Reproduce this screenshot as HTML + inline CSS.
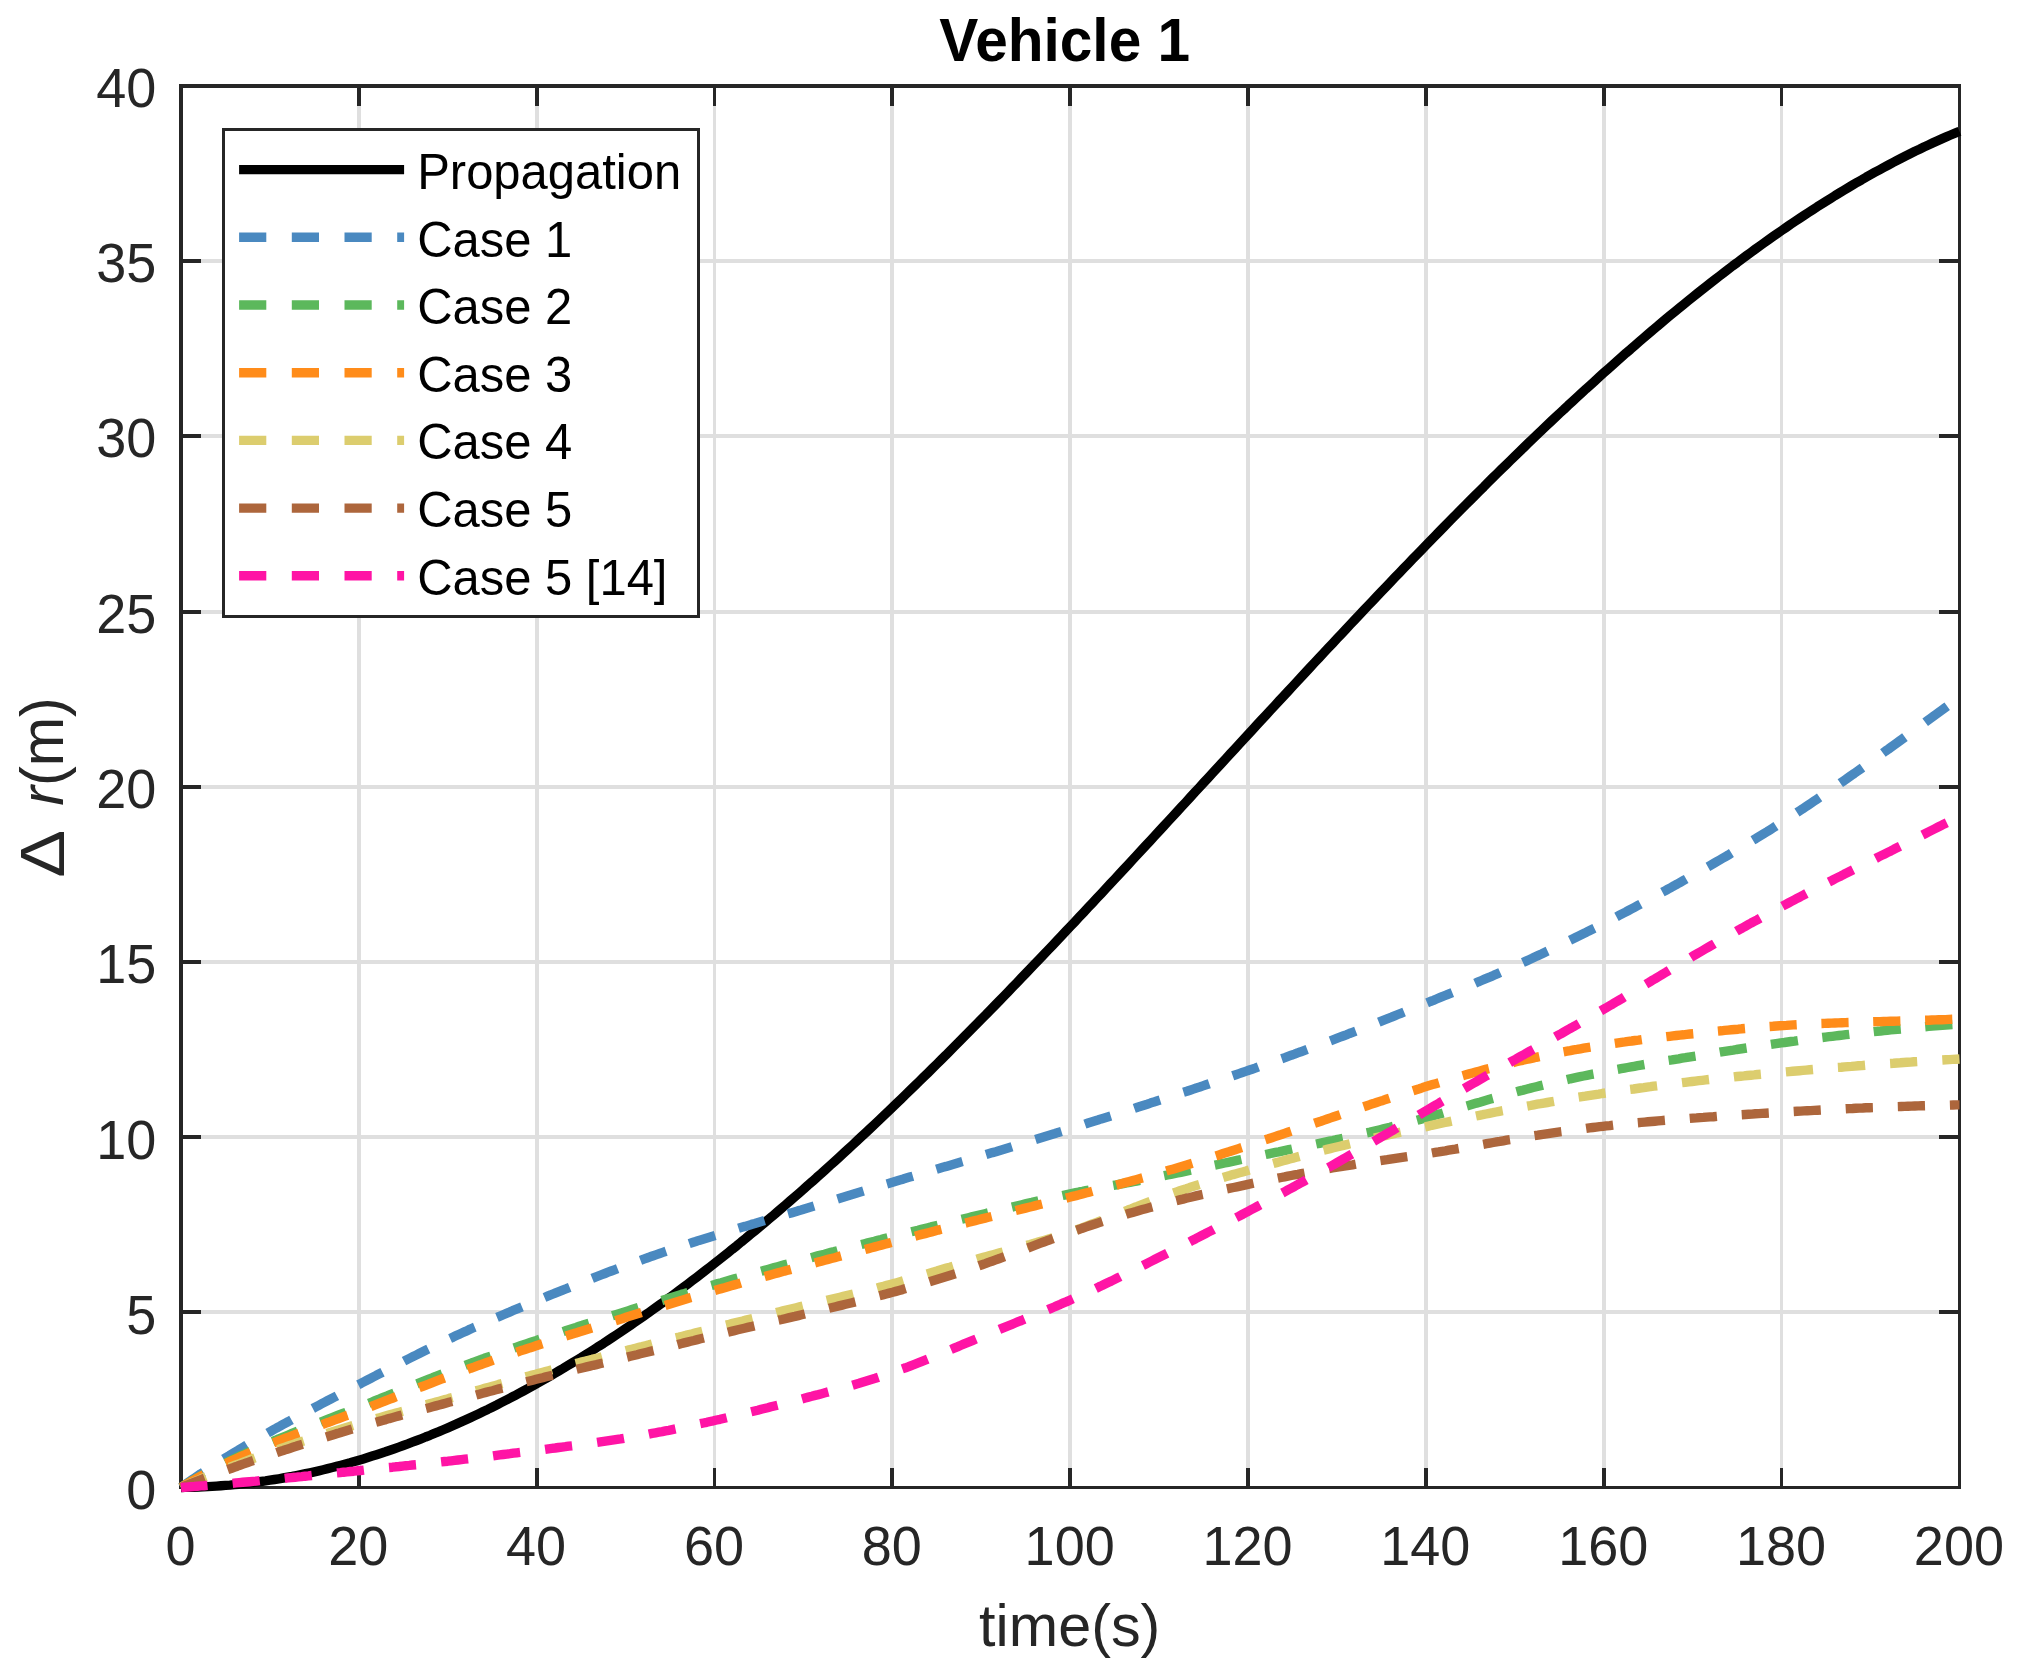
<!DOCTYPE html>
<html><head><meta charset="utf-8"><title>Vehicle 1</title>
<style>html,body{margin:0;padding:0;background:#fff}svg{display:block}text{font-family:"Liberation Sans",sans-serif}</style></head><body>
<svg width="2030" height="1673" viewBox="0 0 2030 1673">
<rect width="2030" height="1673" fill="#fff"/>
<path d="M357,88H361V1486H357ZM535,88H539V1486H535ZM713,88H716V1486H713ZM890,88H894V1486H890ZM1068,88H1072V1486H1068ZM1246,88H1250V1486H1246ZM1424,88H1428V1486H1424ZM1602,88H1606V1486H1602ZM1780,88H1783V1486H1780ZM183,1310H1958V1314H183ZM183,1135H1958V1139H183ZM183,960H1958V964H183ZM183,785H1958V789H183ZM183,610H1958V614H183ZM183,434H1958V438H183ZM183,259H1958V263H183Z" fill="#dfdfdf" shape-rendering="crispEdges"/>
<path d="M357,88H361V106H357Z M357,1468H361V1486H357ZM535,88H539V106H535Z M535,1468H539V1486H535ZM713,88H716V106H713Z M713,1468H716V1486H713ZM890,88H894V106H890Z M890,1468H894V1486H890ZM1068,88H1072V106H1068Z M1068,1468H1072V1486H1068ZM1246,88H1250V106H1246Z M1246,1468H1250V1486H1246ZM1424,88H1428V106H1424Z M1424,1468H1428V1486H1424ZM1602,88H1606V106H1602Z M1602,1468H1606V1486H1602ZM1780,88H1783V106H1780Z M1780,1468H1783V1486H1780ZM183,1310H201V1314H183Z M1939,1310H1958V1314H1939ZM183,1135H201V1139H183Z M1939,1135H1958V1139H1939ZM183,960H201V964H183Z M1939,960H1958V964H1939ZM183,785H201V789H183Z M1939,785H1958V789H1939ZM183,610H201V614H183Z M1939,610H1958V614H1939ZM183,434H201V438H183Z M1939,434H1958V438H1939ZM183,259H201V263H183Z M1939,259H1958V263H1939Z" fill="#262626" shape-rendering="crispEdges"/>
<path d="M179,84H1961V1489H179Z M183,88V1486H1958V88Z" fill="#262626" fill-rule="evenodd" shape-rendering="crispEdges"/>
<path d="M181.0,1487.5 L185.4,1487.4 L189.9,1487.3 L194.3,1487.2 L198.8,1487.0 L203.2,1486.9 L207.7,1486.6 L212.1,1486.4 L216.6,1486.1 L221.0,1485.8 L225.5,1485.4 L229.9,1485.1 L234.4,1484.6 L238.8,1484.2 L243.2,1483.7 L247.7,1483.2 L252.1,1482.7 L256.6,1482.1 L261.0,1481.5 L265.5,1480.9 L269.9,1480.2 L274.4,1479.5 L278.8,1478.8 L283.3,1478.0 L287.7,1477.2 L292.2,1476.4 L296.6,1475.5 L301.0,1474.6 L305.5,1473.7 L309.9,1472.8 L314.4,1471.8 L318.8,1470.8 L323.3,1469.7 L327.7,1468.6 L332.2,1467.5 L336.6,1466.4 L341.1,1465.2 L345.5,1464.0 L350.0,1462.8 L354.4,1461.5 L358.9,1460.2 L363.3,1458.9 L367.7,1457.5 L372.2,1456.1 L376.6,1454.7 L381.1,1453.2 L385.5,1451.8 L390.0,1450.2 L394.4,1448.7 L398.9,1447.1 L403.3,1445.5 L407.8,1443.9 L412.2,1442.2 L416.7,1440.5 L421.1,1438.8 L425.5,1437.0 L430.0,1435.3 L434.4,1433.4 L438.9,1431.6 L443.3,1429.7 L447.8,1427.8 L452.2,1425.9 L456.7,1423.9 L461.1,1421.9 L465.6,1419.9 L470.0,1417.9 L474.5,1415.8 L478.9,1413.7 L483.3,1411.5 L487.8,1409.4 L492.2,1407.2 L496.7,1405.0 L501.1,1402.7 L505.6,1400.4 L510.0,1398.1 L514.5,1395.8 L518.9,1393.4 L523.4,1391.0 L527.8,1388.6 L532.3,1386.2 L536.7,1383.7 L541.1,1381.2 L545.6,1378.7 L550.0,1376.1 L554.5,1373.5 L558.9,1370.9 L563.4,1368.3 L567.8,1365.6 L572.3,1362.9 L576.7,1360.2 L581.2,1357.5 L585.6,1354.7 L590.1,1351.9 L594.5,1349.1 L598.9,1346.2 L603.4,1343.4 L607.8,1340.5 L612.3,1337.5 L616.7,1334.6 L621.2,1331.6 L625.6,1328.6 L630.1,1325.6 L634.5,1322.5 L639.0,1319.4 L643.4,1316.3 L647.9,1313.2 L652.3,1310.0 L656.7,1306.9 L661.2,1303.7 L665.6,1300.4 L670.1,1297.2 L674.5,1293.9 L679.0,1290.6 L683.4,1287.3 L687.9,1283.9 L692.3,1280.6 L696.8,1277.2 L701.2,1273.8 L705.7,1270.3 L710.1,1266.9 L714.5,1263.4 L719.0,1259.9 L723.4,1256.4 L727.9,1252.8 L732.3,1249.2 L736.8,1245.7 L741.2,1242.0 L745.7,1238.4 L750.1,1234.7 L754.6,1231.1 L759.0,1227.4 L763.5,1223.7 L767.9,1219.9 L772.4,1216.2 L776.8,1212.4 L781.2,1208.6 L785.7,1204.7 L790.1,1200.9 L794.6,1197.0 L799.0,1193.2 L803.5,1189.3 L807.9,1185.3 L812.4,1181.4 L816.8,1177.4 L821.3,1173.5 L825.7,1169.5 L830.2,1165.4 L834.6,1161.4 L839.0,1157.4 L843.5,1153.3 L847.9,1149.2 L852.4,1145.1 L856.8,1141.0 L861.3,1136.8 L865.7,1132.7 L870.2,1128.5 L874.6,1124.3 L879.1,1120.1 L883.5,1115.9 L888.0,1111.6 L892.4,1107.4 L896.8,1103.1 L901.3,1098.8 L905.7,1094.5 L910.2,1090.2 L914.6,1085.9 L919.1,1081.5 L923.5,1077.2 L928.0,1072.8 L932.4,1068.4 L936.9,1064.0 L941.3,1059.6 L945.8,1055.2 L950.2,1050.7 L954.6,1046.3 L959.1,1041.8 L963.5,1037.3 L968.0,1032.8 L972.4,1028.3 L976.9,1023.8 L981.3,1019.3 L985.8,1014.8 L990.2,1010.2 L994.7,1005.6 L999.1,1001.1 L1003.6,996.5 L1008.0,991.9 L1012.4,987.3 L1016.9,982.7 L1021.3,978.0 L1025.8,973.4 L1030.2,968.8 L1034.7,964.1 L1039.1,959.5 L1043.6,954.8 L1048.0,950.1 L1052.5,945.4 L1056.9,940.7 L1061.4,936.0 L1065.8,931.3 L1070.2,926.6 L1074.7,921.9 L1079.1,917.1 L1083.6,912.4 L1088.0,907.6 L1092.5,902.9 L1096.9,898.1 L1101.4,893.4 L1105.8,888.6 L1110.3,883.8 L1114.7,879.1 L1119.2,874.3 L1123.6,869.5 L1128.1,864.7 L1132.5,859.9 L1136.9,855.1 L1141.4,850.3 L1145.8,845.5 L1150.3,840.7 L1154.7,835.9 L1159.2,831.0 L1163.6,826.2 L1168.1,821.4 L1172.5,816.6 L1177.0,811.8 L1181.4,806.9 L1185.9,802.1 L1190.3,797.3 L1194.7,792.4 L1199.2,787.6 L1203.6,782.8 L1208.1,778.0 L1212.5,773.1 L1217.0,768.3 L1221.4,763.5 L1225.9,758.6 L1230.3,753.8 L1234.8,749.0 L1239.2,744.1 L1243.7,739.3 L1248.1,734.5 L1252.5,729.7 L1257.0,724.8 L1261.4,720.0 L1265.9,715.2 L1270.3,710.4 L1274.8,705.6 L1279.2,700.8 L1283.7,696.0 L1288.1,691.2 L1292.6,686.4 L1297.0,681.6 L1301.5,676.8 L1305.9,672.0 L1310.3,667.2 L1314.8,662.4 L1319.2,657.7 L1323.7,652.9 L1328.1,648.1 L1332.6,643.4 L1337.0,638.6 L1341.5,633.9 L1345.9,629.2 L1350.4,624.4 L1354.8,619.7 L1359.3,615.0 L1363.7,610.3 L1368.1,605.6 L1372.6,600.9 L1377.0,596.2 L1381.5,591.5 L1385.9,586.9 L1390.4,582.2 L1394.8,577.6 L1399.3,572.9 L1403.7,568.3 L1408.2,563.7 L1412.6,559.1 L1417.1,554.5 L1421.5,549.9 L1426.0,545.3 L1430.4,540.7 L1434.8,536.2 L1439.3,531.6 L1443.7,527.1 L1448.2,522.5 L1452.6,518.0 L1457.1,513.5 L1461.5,509.0 L1466.0,504.5 L1470.4,500.1 L1474.9,495.6 L1479.3,491.2 L1483.8,486.8 L1488.2,482.3 L1492.6,477.9 L1497.1,473.5 L1501.5,469.2 L1506.0,464.8 L1510.4,460.5 L1514.9,456.1 L1519.3,451.8 L1523.8,447.5 L1528.2,443.2 L1532.7,438.9 L1537.1,434.7 L1541.6,430.4 L1546.0,426.2 L1550.4,422.0 L1554.9,417.8 L1559.3,413.6 L1563.8,409.5 L1568.2,405.3 L1572.7,401.2 L1577.1,397.1 L1581.6,393.0 L1586.0,388.9 L1590.5,384.9 L1594.9,380.9 L1599.4,376.8 L1603.8,372.8 L1608.2,368.9 L1612.7,364.9 L1617.1,361.0 L1621.6,357.0 L1626.0,353.1 L1630.5,349.3 L1634.9,345.4 L1639.4,341.5 L1643.8,337.7 L1648.3,333.9 L1652.7,330.1 L1657.2,326.4 L1661.6,322.6 L1666.0,318.9 L1670.5,315.2 L1674.9,311.6 L1679.4,307.9 L1683.8,304.3 L1688.3,300.7 L1692.7,297.1 L1697.2,293.5 L1701.6,290.0 L1706.1,286.5 L1710.5,283.0 L1715.0,279.5 L1719.4,276.1 L1723.8,272.7 L1728.3,269.3 L1732.7,265.9 L1737.2,262.6 L1741.6,259.2 L1746.1,255.9 L1750.5,252.7 L1755.0,249.4 L1759.4,246.2 L1763.9,243.0 L1768.3,239.9 L1772.8,236.7 L1777.2,233.6 L1781.7,230.5 L1786.1,227.5 L1790.5,224.4 L1795.0,221.4 L1799.4,218.5 L1803.9,215.5 L1808.3,212.6 L1812.8,209.7 L1817.2,206.8 L1821.7,204.0 L1826.1,201.2 L1830.6,198.4 L1835.0,195.6 L1839.5,192.9 L1843.9,190.2 L1848.3,187.6 L1852.8,184.9 L1857.2,182.3 L1861.7,179.8 L1866.1,177.2 L1870.6,174.7 L1875.0,172.2 L1879.5,169.8 L1883.9,167.4 L1888.4,165.0 L1892.8,162.6 L1897.3,160.3 L1901.7,158.0 L1906.1,155.8 L1910.6,153.5 L1915.0,151.3 L1919.5,149.2 L1923.9,147.0 L1928.4,144.9 L1932.8,142.9 L1937.3,140.9 L1941.7,138.9 L1946.2,136.9 L1950.6,135.0 L1955.1,133.1 L1959.5,131.2" fill="none" stroke="#000000" stroke-width="9.4" stroke-linejoin="round"/>
<path d="M181.0,1487.5 L183.8,1485.5 L186.5,1483.6 L189.3,1481.6 L192.1,1479.7 L194.9,1477.8 L197.7,1475.9 L200.5,1474.0 L203.4,1472.2 M223.6,1459.1 L226.5,1457.3 L229.4,1455.6 L232.3,1453.8 L235.2,1452.0 L238.1,1450.3 L241.0,1448.5 L243.9,1446.8 L246.8,1445.0 M267.7,1433.0 L270.7,1431.3 L273.6,1429.7 L276.6,1428.0 L279.6,1426.4 L282.6,1424.7 L285.5,1423.1 L288.5,1421.5 L291.5,1419.8 M312.8,1408.5 L315.8,1406.9 L318.8,1405.3 L321.8,1403.7 L324.8,1402.1 L327.8,1400.5 L330.8,1399.0 L333.9,1397.4 L336.9,1395.8 M358.3,1384.7 L361.3,1383.2 L364.3,1381.6 L367.4,1380.0 L370.4,1378.5 L373.4,1376.9 L376.4,1375.3 L379.4,1373.8 L382.5,1372.2 M404.0,1361.2 L407.0,1359.6 L410.0,1358.1 L413.1,1356.6 L416.1,1355.1 L419.2,1353.5 L422.2,1352.0 L425.2,1350.5 L428.3,1349.0 M450.1,1338.5 L453.2,1337.1 L456.3,1335.6 L459.3,1334.2 L462.4,1332.8 L465.5,1331.4 L468.6,1329.9 L471.7,1328.5 L474.8,1327.2 M497.0,1317.4 L500.1,1316.1 L503.3,1314.7 L506.4,1313.4 L509.5,1312.1 L512.6,1310.7 L515.8,1309.4 L518.9,1308.1 L522.0,1306.8 M544.5,1297.5 L547.6,1296.2 L550.7,1294.9 L553.9,1293.7 L557.0,1292.4 L560.2,1291.1 L563.3,1289.8 L566.5,1288.6 L569.7,1287.3 M592.2,1278.4 L595.4,1277.1 L598.6,1275.9 L601.8,1274.7 L604.9,1273.5 L608.1,1272.2 L611.3,1271.0 L614.5,1269.8 L617.6,1268.6 M640.5,1260.3 L643.7,1259.1 L646.9,1258.0 L650.1,1256.8 L653.3,1255.7 L656.5,1254.6 L659.7,1253.5 L662.9,1252.4 L666.1,1251.3 M689.2,1243.6 L692.5,1242.5 L695.7,1241.5 L698.9,1240.4 L702.2,1239.4 L705.4,1238.4 L708.7,1237.4 L711.9,1236.4 L715.2,1235.4 M738.5,1228.3 L741.7,1227.3 L745.0,1226.4 L748.3,1225.4 L751.5,1224.4 L754.8,1223.5 L758.1,1222.5 L761.3,1221.6 L764.6,1220.6 M788.0,1213.8 L791.3,1212.9 L794.5,1211.9 L797.8,1210.9 L801.1,1210.0 L804.3,1209.0 L807.6,1208.0 L810.8,1207.1 L814.1,1206.1 M837.5,1199.0 L840.7,1198.0 L844.0,1197.0 L847.2,1196.0 L850.5,1195.0 L853.7,1194.0 L857.0,1193.0 L860.2,1192.1 L863.5,1191.1 M886.9,1183.9 L890.1,1183.0 L893.4,1182.0 L896.6,1181.0 L899.9,1180.0 L903.2,1179.1 L906.4,1178.1 L909.7,1177.1 L912.9,1176.2 M936.4,1169.3 L939.7,1168.3 L942.9,1167.3 L946.2,1166.4 L949.5,1165.4 L952.7,1164.5 L956.0,1163.5 L959.3,1162.5 L962.5,1161.6 M986.0,1154.6 L989.3,1153.6 L992.5,1152.6 L995.8,1151.7 L999.0,1150.7 L1002.3,1149.7 L1005.5,1148.7 L1008.8,1147.7 L1012.0,1146.7 M1035.5,1139.5 L1038.7,1138.5 L1042.0,1137.5 L1045.2,1136.5 L1048.5,1135.5 L1051.7,1134.5 L1055.0,1133.5 L1058.2,1132.4 L1061.5,1131.4 M1084.9,1124.1 L1088.1,1123.0 L1091.4,1122.0 L1094.6,1121.0 L1097.9,1120.0 L1101.1,1118.9 L1104.4,1117.9 L1107.6,1116.9 L1110.8,1115.9 M1134.3,1108.4 L1137.5,1107.3 L1140.7,1106.3 L1144.0,1105.2 L1147.2,1104.2 L1150.4,1103.1 L1153.7,1102.1 L1156.9,1101.0 L1160.1,1100.0 M1183.5,1092.3 L1186.8,1091.3 L1190.0,1090.2 L1193.2,1089.1 L1196.4,1088.0 L1199.7,1087.0 L1202.9,1085.9 L1206.1,1084.8 L1209.3,1083.7 M1232.7,1075.8 L1235.9,1074.7 L1239.1,1073.6 L1242.3,1072.5 L1245.6,1071.4 L1248.8,1070.3 L1252.0,1069.2 L1255.2,1068.1 L1258.4,1066.9 M1281.7,1058.7 L1284.9,1057.6 L1288.1,1056.4 L1291.3,1055.2 L1294.5,1054.1 L1297.6,1052.9 L1300.8,1051.8 L1304.0,1050.6 L1307.2,1049.4 M1330.4,1040.8 L1333.6,1039.6 L1336.7,1038.4 L1339.9,1037.2 L1343.1,1036.0 L1346.3,1034.8 L1349.4,1033.5 L1352.6,1032.3 L1355.8,1031.1 M1378.8,1022.1 L1382.0,1020.8 L1385.1,1019.6 L1388.3,1018.3 L1391.5,1017.1 L1394.6,1015.8 L1397.8,1014.5 L1400.9,1013.3 L1404.1,1012.0 M1427.1,1002.8 L1430.2,1001.5 L1433.4,1000.3 L1436.5,999.0 L1439.7,997.7 L1442.8,996.4 L1446.0,995.2 L1449.1,993.9 L1452.3,992.6 M1475.2,983.2 L1478.3,981.8 L1481.5,980.5 L1484.6,979.2 L1487.7,977.9 L1490.9,976.6 L1494.0,975.2 L1497.1,973.9 L1500.2,972.5 M1522.9,962.5 L1526.0,961.1 L1529.1,959.7 L1532.2,958.3 L1535.3,956.8 L1538.4,955.4 L1541.5,954.0 L1544.6,952.5 L1547.6,951.1 M1570.0,940.3 L1573.1,938.8 L1576.1,937.3 L1579.2,935.8 L1582.2,934.3 L1585.3,932.8 L1588.3,931.2 L1591.3,929.7 L1594.4,928.2 M1616.5,916.8 L1619.5,915.2 L1622.5,913.6 L1625.5,912.1 L1628.5,910.5 L1631.5,908.9 L1634.5,907.3 L1637.5,905.7 L1640.5,904.1 M1662.4,892.2 L1665.4,890.6 L1668.4,888.9 L1671.4,887.3 L1674.3,885.6 L1677.3,884.0 L1680.3,882.3 L1683.2,880.7 L1686.2,879.0 M1707.9,866.8 L1710.9,865.1 L1713.8,863.4 L1716.8,861.7 L1719.7,860.0 L1722.6,858.3 L1725.6,856.6 L1728.5,854.9 L1731.4,853.1 M1752.9,840.3 L1755.8,838.6 L1758.7,836.8 L1761.6,835.0 L1764.5,833.2 L1767.4,831.5 L1770.3,829.7 L1773.1,827.9 L1776.0,826.0 M1797.0,812.5 L1799.9,810.6 L1802.7,808.8 L1805.5,806.9 L1808.4,805.0 L1811.2,803.1 L1814.0,801.2 L1816.8,799.3 L1819.6,797.4 M1840.3,783.2 L1843.0,781.3 L1845.8,779.4 L1848.6,777.4 L1851.4,775.4 L1854.2,773.5 L1857.0,771.5 L1859.7,769.6 L1862.5,767.6 M1882.9,753.0 L1885.6,751.0 L1888.4,749.1 L1891.1,747.1 L1893.9,745.1 L1896.7,743.1 L1899.4,741.1 L1902.2,739.1 L1904.9,737.1 M1925.2,722.3 L1927.9,720.3 L1930.7,718.3 L1933.4,716.3 L1936.2,714.3 L1938.9,712.3 L1941.7,710.3 L1944.4,708.3 L1947.2,706.3" fill="none" stroke="#4a89c0" stroke-width="9.4" stroke-linejoin="round"/>
<path d="M181.0,1487.5 L183.8,1485.8 L186.6,1484.1 L189.4,1482.4 L192.3,1480.8 L195.1,1479.2 L198.0,1477.5 L200.8,1475.9 L203.7,1474.4 M225.5,1463.0 L228.5,1461.5 L231.6,1460.0 L234.7,1458.5 L237.7,1457.1 L240.8,1455.6 L243.9,1454.2 L247.0,1452.7 L250.1,1451.3 M272.6,1441.5 L275.7,1440.2 L278.8,1438.8 L282.0,1437.5 L285.1,1436.3 L288.3,1435.0 L291.4,1433.7 L294.6,1432.4 L297.7,1431.1 M320.6,1422.1 L323.8,1420.9 L326.9,1419.7 L330.1,1418.4 L333.3,1417.2 L336.4,1416.0 L339.6,1414.7 L342.8,1413.5 L346.0,1412.3 M368.8,1403.3 L372.0,1402.0 L375.1,1400.7 L378.3,1399.5 L381.4,1398.2 L384.6,1396.9 L387.8,1395.7 L390.9,1394.4 L394.1,1393.1 M416.9,1383.9 L420.0,1382.7 L423.2,1381.4 L426.3,1380.2 L429.5,1378.9 L432.7,1377.7 L435.8,1376.4 L439.0,1375.2 L442.2,1374.0 M465.2,1365.3 L468.4,1364.1 L471.6,1363.0 L474.7,1361.8 L477.9,1360.6 L481.1,1359.5 L484.3,1358.3 L487.5,1357.2 L490.8,1356.1 M514.0,1348.0 L517.2,1346.9 L520.4,1345.8 L523.6,1344.7 L526.8,1343.6 L530.1,1342.5 L533.3,1341.4 L536.5,1340.4 L539.7,1339.3 M563.1,1331.6 L566.3,1330.5 L569.5,1329.5 L572.8,1328.4 L576.0,1327.4 L579.2,1326.3 L582.5,1325.3 L585.7,1324.2 L589.0,1323.2 M612.4,1315.7 L615.6,1314.7 L618.9,1313.7 L622.1,1312.7 L625.3,1311.7 L628.6,1310.6 L631.8,1309.6 L635.1,1308.6 L638.3,1307.6 M661.8,1300.4 L665.1,1299.4 L668.3,1298.4 L671.6,1297.4 L674.8,1296.4 L678.1,1295.4 L681.3,1294.4 L684.6,1293.5 L687.9,1292.5 M711.4,1285.5 L714.7,1284.6 L717.9,1283.6 L721.2,1282.7 L724.5,1281.7 L727.7,1280.8 L731.0,1279.8 L734.3,1278.9 L737.6,1278.0 M761.2,1271.3 L764.5,1270.4 L767.8,1269.5 L771.0,1268.6 L774.3,1267.6 L777.6,1266.7 L780.9,1265.8 L784.2,1264.9 L787.4,1264.1 M811.2,1257.7 L814.4,1256.8 L817.7,1255.9 L821.0,1255.0 L824.3,1254.2 L827.6,1253.3 L830.9,1252.4 L834.2,1251.6 L837.5,1250.7 M861.3,1244.5 L864.5,1243.7 L867.8,1242.8 L871.1,1242.0 L874.4,1241.2 L877.7,1240.3 L881.0,1239.5 L884.3,1238.6 L887.6,1237.8 M911.4,1231.8 L914.7,1231.0 L918.0,1230.2 L921.3,1229.3 L924.6,1228.5 L927.9,1227.7 L931.2,1226.9 L934.5,1226.0 L937.8,1225.2 M961.7,1219.3 L965.0,1218.5 L968.3,1217.7 L971.6,1216.9 L974.9,1216.1 L978.2,1215.3 L981.5,1214.5 L984.8,1213.7 L988.1,1212.9 M1012.0,1207.1 L1015.3,1206.3 L1018.6,1205.5 L1021.9,1204.7 L1025.2,1203.9 L1028.5,1203.1 L1031.9,1202.4 L1035.2,1201.6 L1038.5,1200.8 M1062.5,1195.5 L1065.8,1194.8 L1069.1,1194.1 L1072.5,1193.4 L1075.8,1192.7 L1079.1,1192.0 L1082.5,1191.4 L1085.8,1190.7 L1089.1,1190.0 M1113.3,1185.4 L1116.6,1184.8 L1119.9,1184.1 L1123.3,1183.5 L1126.6,1182.9 L1130.0,1182.3 L1133.3,1181.6 L1136.7,1181.0 L1140.0,1180.4 M1164.1,1175.7 L1167.5,1175.0 L1170.8,1174.4 L1174.1,1173.7 L1177.5,1173.0 L1180.8,1172.3 L1184.1,1171.6 L1187.4,1170.9 L1190.8,1170.2 M1214.8,1165.2 L1218.1,1164.5 L1221.5,1163.7 L1224.8,1163.0 L1228.1,1162.3 L1231.4,1161.6 L1234.8,1160.9 L1238.1,1160.2 L1241.4,1159.5 M1265.5,1154.5 L1268.8,1153.8 L1272.1,1153.1 L1275.5,1152.4 L1278.8,1151.8 L1282.1,1151.1 L1285.5,1150.4 L1288.8,1149.7 L1292.1,1149.0 M1316.2,1144.0 L1319.5,1143.3 L1322.8,1142.6 L1326.2,1141.9 L1329.5,1141.2 L1332.8,1140.5 L1336.1,1139.7 L1339.5,1139.0 L1342.8,1138.3 M1366.8,1132.8 L1370.1,1132.1 L1373.4,1131.3 L1376.7,1130.5 L1380.0,1129.7 L1383.3,1128.9 L1386.6,1128.1 L1389.9,1127.3 L1393.2,1126.4 M1417.0,1120.3 L1420.3,1119.4 L1423.5,1118.5 L1426.8,1117.6 L1430.1,1116.7 L1433.4,1115.7 L1436.6,1114.8 L1439.9,1113.9 L1443.2,1112.9 M1466.8,1106.0 L1470.0,1105.1 L1473.3,1104.1 L1476.5,1103.1 L1479.8,1102.2 L1483.1,1101.2 L1486.3,1100.3 L1489.6,1099.3 L1492.9,1098.4 M1516.5,1091.8 L1519.8,1090.9 L1523.1,1090.1 L1526.4,1089.2 L1529.7,1088.4 L1533.0,1087.5 L1536.3,1086.7 L1539.6,1085.9 L1542.9,1085.1 M1566.9,1079.6 L1570.2,1078.8 L1573.5,1078.1 L1576.8,1077.4 L1580.2,1076.7 L1583.5,1076.0 L1586.8,1075.3 L1590.1,1074.6 L1593.5,1074.0 M1617.6,1069.3 L1621.0,1068.7 L1624.3,1068.1 L1627.6,1067.5 L1631.0,1066.9 L1634.3,1066.3 L1637.7,1065.7 L1641.0,1065.1 L1644.4,1064.5 M1668.6,1060.4 L1672.0,1059.9 L1675.3,1059.3 L1678.7,1058.8 L1682.0,1058.2 L1685.4,1057.7 L1688.8,1057.1 L1692.1,1056.6 L1695.5,1056.1 M1719.7,1052.2 L1723.1,1051.6 L1726.5,1051.1 L1729.8,1050.6 L1733.2,1050.1 L1736.5,1049.5 L1739.9,1049.0 L1743.3,1048.5 L1746.6,1048.0 M1770.9,1044.4 L1774.3,1043.9 L1777.7,1043.4 L1781.0,1042.9 L1784.4,1042.5 L1787.8,1042.0 L1791.1,1041.5 L1794.5,1041.1 L1797.9,1040.6 M1822.3,1037.5 L1825.6,1037.1 L1829.0,1036.7 L1832.4,1036.3 L1835.8,1035.9 L1839.1,1035.5 L1842.5,1035.1 L1845.9,1034.7 L1849.3,1034.3 M1873.7,1031.7 L1877.1,1031.3 L1880.5,1031.0 L1883.8,1030.6 L1887.2,1030.3 L1890.6,1029.9 L1894.0,1029.6 L1897.4,1029.3 L1900.8,1029.0 M1925.2,1026.7 L1928.6,1026.4 L1932.0,1026.1 L1935.4,1025.9 L1938.8,1025.6 L1942.2,1025.3 L1945.6,1025.0 L1949.0,1024.7 L1952.4,1024.5" fill="none" stroke="#5cb85c" stroke-width="9.4" stroke-linejoin="round"/>
<path d="M181.0,1487.5 L183.8,1485.8 L186.6,1484.1 L189.5,1482.5 L192.3,1480.9 L195.2,1479.3 L198.1,1477.7 L200.9,1476.2 L203.8,1474.6 M225.9,1463.5 L229.0,1462.1 L232.1,1460.6 L235.1,1459.2 L238.2,1457.8 L241.3,1456.4 L244.4,1455.0 L247.6,1453.7 L250.7,1452.3 M273.5,1442.9 L276.7,1441.7 L279.8,1440.4 L283.0,1439.2 L286.2,1438.0 L289.4,1436.8 L292.5,1435.6 L295.7,1434.4 L298.9,1433.2 M322.1,1424.6 L325.3,1423.4 L328.5,1422.3 L331.7,1421.1 L334.8,1419.9 L338.0,1418.8 L341.2,1417.6 L344.4,1416.4 L347.6,1415.3 M370.7,1406.6 L373.9,1405.3 L377.1,1404.1 L380.2,1402.9 L383.4,1401.7 L386.6,1400.4 L389.8,1399.2 L392.9,1398.0 L396.1,1396.7 M419.1,1387.7 L422.3,1386.5 L425.4,1385.3 L428.6,1384.1 L431.8,1382.8 L434.9,1381.6 L438.1,1380.4 L441.3,1379.2 L444.5,1378.0 M467.6,1369.4 L470.8,1368.2 L474.0,1367.1 L477.2,1365.9 L480.4,1364.8 L483.6,1363.6 L486.8,1362.5 L490.0,1361.4 L493.2,1360.2 M516.6,1352.2 L519.8,1351.1 L523.1,1350.1 L526.3,1349.0 L529.5,1347.9 L532.7,1346.9 L536.0,1345.8 L539.2,1344.7 L542.4,1343.7 M565.9,1336.1 L569.2,1335.1 L572.4,1334.1 L575.7,1333.1 L578.9,1332.0 L582.2,1331.0 L585.4,1330.0 L588.6,1329.0 L591.9,1328.0 M615.5,1320.7 L618.7,1319.7 L622.0,1318.7 L625.2,1317.6 L628.5,1316.6 L631.7,1315.6 L635.0,1314.6 L638.2,1313.6 L641.5,1312.6 M665.1,1305.4 L668.3,1304.4 L671.6,1303.4 L674.8,1302.4 L678.1,1301.4 L681.3,1300.4 L684.6,1299.4 L687.8,1298.4 L691.1,1297.5 M714.8,1290.5 L718.0,1289.5 L721.3,1288.6 L724.6,1287.7 L727.9,1286.7 L731.1,1285.8 L734.4,1284.9 L737.7,1284.0 L740.9,1283.0 M764.7,1276.5 L768.0,1275.6 L771.3,1274.7 L774.6,1273.8 L777.9,1272.9 L781.2,1272.0 L784.4,1271.1 L787.7,1270.3 L791.0,1269.4 M814.9,1263.0 L818.1,1262.1 L821.4,1261.2 L824.7,1260.3 L828.0,1259.4 L831.3,1258.5 L834.6,1257.7 L837.8,1256.8 L841.1,1255.9 M865.0,1249.5 L868.3,1248.6 L871.5,1247.8 L874.8,1246.9 L878.1,1246.0 L881.4,1245.1 L884.7,1244.2 L888.0,1243.4 L891.3,1242.5 M915.1,1236.2 L918.4,1235.3 L921.7,1234.4 L925.0,1233.6 L928.3,1232.7 L931.6,1231.9 L934.9,1231.0 L938.1,1230.1 L941.4,1229.3 M965.4,1223.1 L968.6,1222.3 L971.9,1221.4 L975.2,1220.6 L978.5,1219.8 L981.8,1218.9 L985.1,1218.1 L988.4,1217.3 L991.7,1216.5 M1015.7,1210.5 L1019.0,1209.7 L1022.3,1208.9 L1025.6,1208.1 L1028.9,1207.3 L1032.2,1206.5 L1035.5,1205.6 L1038.8,1204.8 L1042.1,1204.0 M1066.1,1198.1 L1069.4,1197.2 L1072.7,1196.4 L1076.0,1195.6 L1079.3,1194.7 L1082.5,1193.9 L1085.8,1193.0 L1089.1,1192.2 L1092.4,1191.3 M1116.3,1185.1 L1119.6,1184.2 L1122.9,1183.3 L1126.2,1182.4 L1129.4,1181.5 L1132.7,1180.6 L1136.0,1179.7 L1139.3,1178.8 L1142.6,1177.9 M1166.3,1171.1 L1169.6,1170.1 L1172.8,1169.2 L1176.1,1168.2 L1179.3,1167.2 L1182.6,1166.2 L1185.8,1165.3 L1189.1,1164.3 L1192.3,1163.3 M1215.9,1155.9 L1219.1,1154.9 L1222.4,1153.8 L1225.6,1152.8 L1228.9,1151.8 L1232.1,1150.7 L1235.3,1149.7 L1238.6,1148.6 L1241.8,1147.6 M1265.3,1139.8 L1268.5,1138.8 L1271.7,1137.7 L1274.9,1136.6 L1278.2,1135.5 L1281.4,1134.5 L1284.6,1133.4 L1287.8,1132.3 L1291.1,1131.2 M1314.5,1123.3 L1317.7,1122.2 L1320.9,1121.2 L1324.1,1120.1 L1327.3,1119.0 L1330.6,1117.9 L1333.8,1116.8 L1337.0,1115.7 L1340.2,1114.6 M1363.6,1106.8 L1366.9,1105.7 L1370.1,1104.6 L1373.3,1103.6 L1376.5,1102.5 L1379.8,1101.4 L1383.0,1100.4 L1386.2,1099.3 L1389.5,1098.2 M1413.0,1090.7 L1416.2,1089.7 L1419.5,1088.7 L1422.7,1087.6 L1426.0,1086.6 L1429.2,1085.6 L1432.5,1084.6 L1435.7,1083.7 L1439.0,1082.7 M1462.7,1075.7 L1465.9,1074.8 L1469.2,1073.9 L1472.5,1073.0 L1475.8,1072.1 L1479.1,1071.2 L1482.3,1070.3 L1485.6,1069.4 L1488.9,1068.6 M1512.9,1062.6 L1516.2,1061.8 L1519.5,1061.0 L1522.8,1060.3 L1526.1,1059.5 L1529.4,1058.8 L1532.8,1058.1 L1536.1,1057.3 L1539.4,1056.6 M1563.6,1051.8 L1567.0,1051.2 L1570.3,1050.6 L1573.7,1049.9 L1577.0,1049.4 L1580.4,1048.8 L1583.7,1048.2 L1587.1,1047.6 L1590.4,1047.1 M1614.8,1043.3 L1618.2,1042.8 L1621.5,1042.3 L1624.9,1041.9 L1628.3,1041.4 L1631.7,1041.0 L1635.0,1040.5 L1638.4,1040.1 L1641.8,1039.6 M1666.3,1036.7 L1669.7,1036.3 L1673.0,1035.9 L1676.4,1035.5 L1679.8,1035.1 L1683.2,1034.8 L1686.6,1034.4 L1689.9,1034.0 L1693.3,1033.7 M1717.9,1031.1 L1721.3,1030.8 L1724.6,1030.4 L1728.0,1030.1 L1731.4,1029.8 L1734.8,1029.5 L1738.2,1029.2 L1741.6,1028.8 L1745.0,1028.5 M1769.6,1026.5 L1773.0,1026.3 L1776.3,1026.0 L1779.7,1025.8 L1783.1,1025.6 L1786.5,1025.4 L1789.9,1025.1 L1793.3,1024.9 L1796.7,1024.7 M1821.4,1023.5 L1824.8,1023.4 L1828.2,1023.2 L1831.6,1023.1 L1835.0,1023.0 L1838.4,1022.9 L1841.8,1022.7 L1845.2,1022.6 L1848.6,1022.5 M1873.2,1021.7 L1876.6,1021.6 L1880.0,1021.6 L1883.4,1021.5 L1886.8,1021.4 L1890.2,1021.3 L1893.6,1021.2 L1897.0,1021.1 L1900.4,1021.0 M1925.1,1020.3 L1928.5,1020.2 L1931.9,1020.0 L1935.3,1019.9 L1938.7,1019.8 L1942.1,1019.7 L1945.5,1019.6 L1948.9,1019.4 L1952.3,1019.3" fill="none" stroke="#ff8c1a" stroke-width="9.4" stroke-linejoin="round"/>
<path d="M181.0,1487.5 L184.1,1486.1 L187.2,1484.8 L190.4,1483.4 L193.5,1482.1 L196.6,1480.8 L199.8,1479.5 L202.9,1478.1 L206.0,1476.8 M229.5,1467.4 L232.7,1466.2 L235.9,1465.0 L239.1,1463.8 L242.2,1462.6 L245.4,1461.4 L248.6,1460.2 L251.8,1459.0 L255.0,1457.8 M277.9,1449.6 L281.1,1448.5 L284.4,1447.4 L287.6,1446.3 L290.8,1445.2 L294.0,1444.1 L297.2,1443.0 L300.5,1441.9 L303.7,1440.9 M326.9,1433.4 L330.2,1432.4 L333.4,1431.4 L336.7,1430.4 L339.9,1429.4 L343.2,1428.4 L346.4,1427.4 L349.7,1426.4 L352.9,1425.4 M376.4,1418.6 L379.7,1417.7 L382.9,1416.8 L386.2,1415.8 L389.5,1414.9 L392.7,1414.0 L396.0,1413.1 L399.3,1412.2 L402.6,1411.3 M426.1,1404.8 L429.4,1403.9 L432.7,1403.0 L436.0,1402.1 L439.3,1401.2 L442.5,1400.3 L445.8,1399.4 L449.1,1398.4 L452.4,1397.5 M475.9,1390.9 L479.2,1390.0 L482.5,1389.1 L485.7,1388.1 L489.0,1387.2 L492.3,1386.3 L495.5,1385.4 L498.8,1384.4 L502.1,1383.5 M525.7,1376.9 L529.0,1376.0 L532.2,1375.1 L535.5,1374.3 L538.8,1373.4 L542.1,1372.5 L545.4,1371.6 L548.7,1370.7 L551.9,1369.8 M575.7,1363.6 L578.9,1362.8 L582.2,1361.9 L585.5,1361.1 L588.8,1360.2 L592.1,1359.4 L595.4,1358.5 L598.7,1357.7 L602.0,1356.8 M625.8,1350.8 L629.1,1349.9 L632.4,1349.1 L635.7,1348.2 L638.9,1347.4 L642.2,1346.6 L645.5,1345.7 L648.8,1344.9 L652.1,1344.0 M675.9,1337.9 L679.2,1337.1 L682.5,1336.2 L685.8,1335.4 L689.1,1334.5 L692.4,1333.7 L695.7,1332.8 L699.0,1332.0 L702.3,1331.2 M726.1,1325.1 L729.4,1324.3 L732.7,1323.4 L736.0,1322.6 L739.3,1321.8 L742.6,1321.0 L745.9,1320.1 L749.2,1319.3 L752.5,1318.5 M776.3,1312.6 L779.6,1311.7 L782.9,1310.9 L786.2,1310.1 L789.6,1309.3 L792.9,1308.5 L796.2,1307.7 L799.5,1306.9 L802.8,1306.1 M826.7,1300.4 L830.0,1299.6 L833.3,1298.8 L836.6,1298.0 L839.9,1297.2 L843.3,1296.4 L846.6,1295.6 L849.9,1294.8 L853.2,1294.0 M877.1,1288.0 L880.3,1287.1 L883.6,1286.3 L886.9,1285.4 L890.2,1284.5 L893.5,1283.6 L896.8,1282.7 L900.0,1281.8 L903.3,1280.8 M927.0,1274.0 L930.3,1273.0 L933.5,1272.0 L936.8,1271.1 L940.0,1270.1 L943.3,1269.1 L946.5,1268.1 L949.8,1267.2 L953.1,1266.2 M976.8,1259.3 L980.0,1258.3 L983.3,1257.4 L986.6,1256.5 L989.8,1255.6 L993.1,1254.7 L996.4,1253.8 L999.7,1252.9 L1003.0,1252.0 M1026.8,1245.4 L1030.1,1244.5 L1033.3,1243.5 L1036.6,1242.6 L1039.9,1241.6 L1043.1,1240.7 L1046.4,1239.7 L1049.6,1238.7 L1052.9,1237.7 M1076.3,1229.9 L1079.5,1228.8 L1082.7,1227.6 L1085.9,1226.4 L1089.1,1225.2 L1092.3,1224.0 L1095.5,1222.8 L1098.6,1221.6 L1101.8,1220.4 M1124.8,1211.3 L1128.0,1210.0 L1131.2,1208.8 L1134.3,1207.5 L1137.5,1206.3 L1140.7,1205.0 L1143.8,1203.8 L1147.0,1202.6 L1150.2,1201.4 M1173.5,1193.0 L1176.7,1191.9 L1179.9,1190.8 L1183.2,1189.7 L1186.4,1188.7 L1189.6,1187.6 L1192.9,1186.6 L1196.1,1185.6 L1199.4,1184.6 M1223.1,1177.5 L1226.4,1176.5 L1229.7,1175.6 L1232.9,1174.6 L1236.2,1173.7 L1239.5,1172.8 L1242.7,1171.9 L1246.0,1171.0 L1249.3,1170.0 M1273.2,1163.5 L1276.5,1162.6 L1279.8,1161.7 L1283.1,1160.8 L1286.4,1159.9 L1289.6,1159.0 L1292.9,1158.2 L1296.2,1157.3 L1299.5,1156.4 M1323.6,1150.2 L1326.9,1149.4 L1330.2,1148.6 L1333.5,1147.8 L1336.8,1147.0 L1340.1,1146.2 L1343.4,1145.4 L1346.7,1144.6 L1350.0,1143.8 M1374.2,1138.1 L1377.5,1137.3 L1380.8,1136.6 L1384.1,1135.8 L1387.5,1135.1 L1390.8,1134.3 L1394.1,1133.6 L1397.4,1132.8 L1400.7,1132.1 M1425.0,1126.8 L1428.4,1126.1 L1431.7,1125.3 L1435.0,1124.6 L1438.3,1123.9 L1441.7,1123.2 L1445.0,1122.5 L1448.3,1121.8 L1451.6,1121.1 M1476.0,1116.0 L1479.4,1115.3 L1482.7,1114.7 L1486.0,1114.0 L1489.4,1113.3 L1492.7,1112.7 L1496.0,1112.0 L1499.4,1111.3 L1502.7,1110.7 M1527.2,1106.1 L1530.5,1105.5 L1533.9,1104.8 L1537.2,1104.2 L1540.6,1103.7 L1543.9,1103.1 L1547.3,1102.5 L1550.6,1101.9 L1554.0,1101.3 M1578.6,1097.2 L1582.0,1096.7 L1585.3,1096.2 L1588.7,1095.6 L1592.0,1095.1 L1595.4,1094.6 L1598.8,1094.1 L1602.1,1093.5 L1605.5,1093.0 M1630.2,1089.4 L1633.6,1089.0 L1636.9,1088.5 L1640.3,1088.0 L1643.7,1087.6 L1647.0,1087.1 L1650.4,1086.7 L1653.8,1086.2 L1657.1,1085.8 M1682.0,1082.7 L1685.3,1082.3 L1688.7,1081.9 L1692.1,1081.5 L1695.5,1081.1 L1698.8,1080.7 L1702.2,1080.3 L1705.6,1079.9 L1709.0,1079.5 M1733.9,1076.9 L1737.2,1076.5 L1740.6,1076.2 L1744.0,1075.9 L1747.4,1075.5 L1750.8,1075.2 L1754.2,1074.9 L1757.5,1074.5 L1760.9,1074.2 M1785.9,1071.9 L1789.2,1071.6 L1792.6,1071.3 L1796.0,1071.0 L1799.4,1070.7 L1802.8,1070.4 L1806.2,1070.1 L1809.6,1069.8 L1813.0,1069.5 M1837.9,1067.4 L1841.3,1067.2 L1844.7,1066.9 L1848.1,1066.6 L1851.5,1066.4 L1854.9,1066.1 L1858.3,1065.8 L1861.7,1065.6 L1865.1,1065.3 M1890.1,1063.5 L1893.5,1063.3 L1896.9,1063.0 L1900.2,1062.8 L1903.6,1062.5 L1907.0,1062.3 L1910.4,1062.1 L1913.8,1061.8 L1917.2,1061.6 M1942.3,1060.0 L1945.7,1059.8 L1949.2,1059.6 L1952.6,1059.4 L1956.1,1059.2 L1959.5,1059.0" fill="none" stroke="#dccd6e" stroke-width="9.4" stroke-linejoin="round"/>
<path d="M181.0,1487.5 L184.4,1486.1 L187.7,1484.8 L191.1,1483.5 L194.5,1482.1 L197.9,1480.8 L201.2,1479.5 L204.6,1478.2 M227.7,1469.6 L230.9,1468.5 L234.1,1467.3 L237.3,1466.2 L240.5,1465.0 L243.7,1463.9 L246.9,1462.8 L250.1,1461.6 L253.4,1460.5 M276.7,1452.6 L279.9,1451.5 L283.2,1450.5 L286.4,1449.4 L289.6,1448.4 L292.9,1447.3 L296.1,1446.3 L299.3,1445.2 L302.6,1444.2 M326.1,1436.9 L329.4,1435.9 L332.7,1434.9 L335.9,1433.9 L339.2,1433.0 L342.4,1432.0 L345.7,1431.0 L348.9,1430.1 L352.2,1429.1 M375.9,1422.3 L379.2,1421.4 L382.5,1420.5 L385.8,1419.6 L389.0,1418.6 L392.3,1417.7 L395.6,1416.8 L398.9,1415.9 L402.1,1415.0 M426.0,1408.5 L429.2,1407.7 L432.5,1406.8 L435.8,1405.9 L439.1,1405.0 L442.4,1404.1 L445.7,1403.2 L448.9,1402.3 L452.2,1401.5 M476.1,1395.1 L479.3,1394.2 L482.6,1393.3 L485.9,1392.4 L489.2,1391.5 L492.5,1390.7 L495.8,1389.8 L499.1,1388.9 L502.4,1388.1 M526.3,1381.8 L529.6,1381.0 L532.8,1380.2 L536.1,1379.3 L539.4,1378.5 L542.7,1377.7 L546.0,1376.8 L549.3,1376.0 L552.6,1375.2 M576.6,1369.3 L579.9,1368.5 L583.2,1367.7 L586.6,1366.9 L589.9,1366.1 L593.2,1365.3 L596.5,1364.6 L599.8,1363.8 L603.1,1363.0 M627.1,1357.1 L630.4,1356.3 L633.7,1355.5 L637.0,1354.7 L640.3,1353.8 L643.6,1353.0 L646.9,1352.2 L650.2,1351.4 L653.5,1350.6 M677.5,1344.6 L680.8,1343.7 L684.1,1342.9 L687.4,1342.1 L690.7,1341.3 L694.0,1340.5 L697.3,1339.6 L700.6,1338.8 L703.9,1338.0 M727.9,1332.2 L731.2,1331.4 L734.5,1330.6 L737.8,1329.8 L741.1,1329.0 L744.4,1328.2 L747.8,1327.4 L751.1,1326.7 L754.4,1325.9 M778.5,1320.2 L781.8,1319.5 L785.1,1318.7 L788.4,1317.9 L791.7,1317.1 L795.0,1316.4 L798.3,1315.6 L801.6,1314.8 L804.9,1314.0 M829.0,1308.3 L832.3,1307.5 L835.6,1306.7 L838.9,1305.9 L842.2,1305.1 L845.5,1304.3 L848.8,1303.5 L852.1,1302.7 L855.4,1301.9 M879.4,1295.7 L882.7,1294.9 L886.0,1294.0 L889.3,1293.1 L892.6,1292.3 L895.9,1291.4 L899.1,1290.5 L902.4,1289.6 L905.7,1288.6 M929.5,1281.8 L932.7,1280.8 L936.0,1279.8 L939.2,1278.8 L942.5,1277.8 L945.7,1276.8 L949.0,1275.7 L952.2,1274.7 L955.4,1273.7 M978.9,1265.8 L982.1,1264.7 L985.3,1263.6 L988.5,1262.4 L991.8,1261.3 L994.9,1260.1 L998.1,1259.0 L1001.3,1257.8 L1004.5,1256.6 M1027.8,1248.0 L1030.9,1246.8 L1034.1,1245.6 L1037.3,1244.4 L1040.5,1243.2 L1043.7,1242.0 L1046.9,1240.8 L1050.1,1239.7 L1053.2,1238.5 M1076.6,1230.2 L1079.8,1229.1 L1083.0,1228.0 L1086.3,1226.9 L1089.5,1225.8 L1092.7,1224.7 L1095.9,1223.7 L1099.2,1222.6 L1102.4,1221.6 M1126.1,1214.3 L1129.4,1213.3 L1132.6,1212.4 L1135.9,1211.5 L1139.2,1210.5 L1142.4,1209.6 L1145.7,1208.7 L1149.0,1207.8 L1152.3,1206.9 M1176.3,1200.7 L1179.6,1199.9 L1182.9,1199.1 L1186.2,1198.2 L1189.5,1197.5 L1192.8,1196.7 L1196.1,1195.9 L1199.4,1195.1 L1202.7,1194.4 M1226.9,1188.9 L1230.3,1188.2 L1233.6,1187.5 L1236.9,1186.8 L1240.2,1186.1 L1243.6,1185.3 L1246.9,1184.6 L1250.2,1183.9 L1253.5,1183.2 M1277.8,1178.2 L1281.2,1177.5 L1284.5,1176.9 L1287.9,1176.2 L1291.2,1175.5 L1294.5,1174.9 L1297.9,1174.3 L1301.2,1173.6 L1304.5,1173.0 M1329.0,1168.6 L1332.3,1168.0 L1335.7,1167.4 L1339.0,1166.9 L1342.4,1166.3 L1345.7,1165.8 L1349.1,1165.3 L1352.5,1164.8 L1355.8,1164.2 M1380.4,1160.6 L1383.8,1160.1 L1387.1,1159.7 L1390.5,1159.2 L1393.9,1158.7 L1397.2,1158.2 L1400.6,1157.7 L1403.9,1157.2 L1407.3,1156.7 M1431.9,1153.0 L1435.2,1152.4 L1438.6,1151.9 L1441.9,1151.3 L1445.3,1150.8 L1448.6,1150.2 L1452.0,1149.6 L1455.3,1149.1 L1458.7,1148.5 M1483.2,1144.3 L1486.5,1143.7 L1489.9,1143.1 L1493.2,1142.5 L1496.6,1141.9 L1499.9,1141.4 L1503.3,1140.8 L1506.6,1140.2 L1510.0,1139.7 M1534.5,1135.7 L1537.9,1135.2 L1541.2,1134.6 L1544.6,1134.1 L1548.0,1133.6 L1551.3,1133.1 L1554.7,1132.6 L1558.1,1132.1 L1561.4,1131.7 M1586.1,1128.4 L1589.4,1127.9 L1592.8,1127.5 L1596.2,1127.1 L1599.6,1126.7 L1602.9,1126.3 L1606.3,1125.9 L1609.7,1125.6 L1613.1,1125.2 M1637.8,1122.7 L1641.2,1122.4 L1644.6,1122.1 L1648.0,1121.8 L1651.4,1121.5 L1654.8,1121.2 L1658.2,1120.9 L1661.5,1120.6 L1664.9,1120.3 M1689.7,1118.4 L1693.1,1118.1 L1696.5,1117.9 L1699.9,1117.6 L1703.3,1117.4 L1706.7,1117.1 L1710.1,1116.9 L1713.5,1116.7 L1716.9,1116.4 M1741.7,1114.7 L1745.1,1114.5 L1748.5,1114.3 L1751.9,1114.1 L1755.3,1113.8 L1758.7,1113.6 L1762.0,1113.4 L1765.4,1113.2 L1768.8,1113.0 M1793.7,1111.5 L1797.1,1111.3 L1800.5,1111.1 L1803.9,1110.9 L1807.3,1110.7 L1810.7,1110.6 L1814.1,1110.4 L1817.5,1110.2 L1820.8,1110.0 M1845.7,1108.8 L1849.1,1108.6 L1852.5,1108.5 L1855.9,1108.3 L1859.3,1108.1 L1862.7,1108.0 L1866.1,1107.8 L1869.5,1107.7 L1872.9,1107.6 M1897.8,1106.6 L1901.2,1106.5 L1904.6,1106.4 L1908.0,1106.2 L1911.4,1106.1 L1914.8,1106.0 L1918.2,1105.9 L1921.6,1105.8 L1925.0,1105.7 M1949.9,1105.1 L1953.1,1105.0 L1956.3,1104.9 L1959.5,1104.9" fill="none" stroke="#ad663c" stroke-width="9.4" stroke-linejoin="round"/>
<path d="M181.0,1487.5 L184.3,1487.2 L187.6,1487.0 L190.9,1486.7 L194.2,1486.5 L197.5,1486.2 L200.8,1485.9 L204.2,1485.7 L207.5,1485.4 M232.6,1483.3 L236.0,1482.9 L239.3,1482.6 L242.7,1482.3 L246.1,1482.0 L249.5,1481.7 L252.9,1481.4 L256.3,1481.1 L259.7,1480.7 M284.7,1478.3 L288.1,1477.9 L291.5,1477.6 L294.9,1477.3 L298.3,1476.9 L301.6,1476.6 L305.0,1476.2 L308.4,1475.9 L311.8,1475.5 M336.9,1472.9 L340.2,1472.6 L343.6,1472.2 L347.0,1471.9 L350.4,1471.5 L353.8,1471.2 L357.1,1470.8 L360.5,1470.5 L363.9,1470.1 M389.0,1467.5 L392.4,1467.2 L395.7,1466.8 L399.1,1466.5 L402.5,1466.1 L405.9,1465.7 L409.3,1465.4 L412.6,1465.0 L416.0,1464.7 M441.1,1461.9 L444.5,1461.5 L447.8,1461.2 L451.2,1460.8 L454.6,1460.4 L458.0,1460.0 L461.3,1459.6 L464.7,1459.2 L468.1,1458.8 M493.1,1455.8 L496.5,1455.3 L499.9,1454.9 L503.2,1454.5 L506.6,1454.1 L510.0,1453.7 L513.4,1453.2 L516.7,1452.8 L520.1,1452.4 M545.1,1449.3 L548.5,1448.8 L551.9,1448.4 L555.2,1448.0 L558.6,1447.5 L562.0,1447.1 L565.3,1446.7 L568.7,1446.2 L572.1,1445.8 M597.1,1442.4 L600.4,1441.9 L603.8,1441.4 L607.2,1440.9 L610.5,1440.4 L613.9,1439.9 L617.2,1439.4 L620.6,1438.9 L624.0,1438.3 M648.8,1434.1 L652.1,1433.4 L655.5,1432.8 L658.8,1432.2 L662.2,1431.6 L665.5,1430.9 L668.8,1430.3 L672.2,1429.6 L675.5,1428.9 M700.2,1423.7 L703.5,1423.0 L706.8,1422.3 L710.1,1421.5 L713.4,1420.8 L716.7,1420.0 L720.1,1419.3 L723.4,1418.5 L726.7,1417.7 M751.2,1411.8 L754.5,1411.0 L757.8,1410.2 L761.1,1409.3 L764.4,1408.5 L767.7,1407.7 L771.0,1406.8 L774.3,1406.0 L777.6,1405.2 M802.0,1398.9 L805.2,1398.0 L808.5,1397.1 L811.8,1396.3 L815.1,1395.4 L818.4,1394.6 L821.7,1393.7 L825.0,1392.8 L828.3,1391.9 M852.5,1385.2 L855.8,1384.2 L859.1,1383.3 L862.3,1382.3 L865.6,1381.3 L868.8,1380.3 L872.1,1379.3 L875.3,1378.3 L878.5,1377.2 M902.3,1368.9 L905.5,1367.8 L908.7,1366.6 L911.9,1365.3 L915.1,1364.1 L918.2,1362.9 L921.4,1361.6 L924.5,1360.4 L927.7,1359.1 M951.0,1349.5 L954.1,1348.2 L957.3,1346.9 L960.4,1345.5 L963.5,1344.2 L966.7,1342.9 L969.8,1341.6 L972.9,1340.3 L976.1,1339.0 M999.4,1329.4 L1002.5,1328.1 L1005.7,1326.8 L1008.8,1325.6 L1012.0,1324.3 L1015.1,1323.0 L1018.3,1321.7 L1021.5,1320.5 L1024.6,1319.2 M1047.9,1309.6 L1051.0,1308.3 L1054.2,1307.0 L1057.3,1305.6 L1060.4,1304.3 L1063.5,1302.9 L1066.7,1301.6 L1069.8,1300.2 L1072.9,1298.8 M1095.8,1288.4 L1098.9,1286.9 L1102.0,1285.5 L1105.0,1284.0 L1108.1,1282.5 L1111.2,1281.1 L1114.2,1279.6 L1117.3,1278.1 L1120.3,1276.6 M1142.9,1265.4 L1146.0,1263.9 L1149.0,1262.4 L1152.0,1260.9 L1155.1,1259.3 L1158.1,1257.8 L1161.1,1256.3 L1164.2,1254.7 L1167.2,1253.2 M1189.7,1241.8 L1192.7,1240.2 L1195.7,1238.7 L1198.7,1237.1 L1201.8,1235.5 L1204.8,1234.0 L1207.8,1232.4 L1210.8,1230.9 L1213.8,1229.3 M1236.2,1217.6 L1239.2,1216.1 L1242.2,1214.5 L1245.2,1212.9 L1248.2,1211.3 L1251.2,1209.7 L1254.2,1208.1 L1257.2,1206.5 L1260.2,1204.9 M1282.4,1193.0 L1285.4,1191.4 L1288.4,1189.7 L1291.4,1188.1 L1294.4,1186.5 L1297.3,1184.8 L1300.3,1183.2 L1303.3,1181.6 L1306.3,1179.9 M1328.3,1167.6 L1331.2,1166.0 L1334.2,1164.3 L1337.1,1162.6 L1340.1,1160.9 L1343.1,1159.2 L1346.0,1157.5 L1348.9,1155.8 L1351.9,1154.1 M1373.7,1141.5 L1376.6,1139.8 L1379.6,1138.0 L1382.5,1136.3 L1385.4,1134.6 L1388.4,1132.9 L1391.3,1131.2 L1394.2,1129.4 L1397.1,1127.7 M1418.9,1115.0 L1421.8,1113.2 L1424.7,1111.5 L1427.7,1109.8 L1430.6,1108.1 L1433.5,1106.4 L1436.5,1104.7 L1439.4,1102.9 L1442.4,1101.2 M1464.2,1088.6 L1467.1,1086.9 L1470.1,1085.2 L1473.0,1083.5 L1476.0,1081.8 L1478.9,1080.1 L1481.9,1078.4 L1484.8,1076.7 L1487.8,1075.1 M1509.7,1062.6 L1512.6,1060.9 L1515.6,1059.3 L1518.5,1057.6 L1521.5,1055.9 L1524.5,1054.3 L1527.4,1052.6 L1530.4,1050.9 L1533.4,1049.3 M1555.3,1036.9 L1558.3,1035.2 L1561.3,1033.6 L1564.2,1031.9 L1567.2,1030.2 L1570.1,1028.5 L1573.1,1026.9 L1576.0,1025.2 L1579.0,1023.5 M1600.8,1010.9 L1603.8,1009.2 L1606.7,1007.5 L1609.6,1005.8 L1612.6,1004.1 L1615.5,1002.3 L1618.4,1000.6 L1621.4,998.9 L1624.3,997.1 M1645.9,984.2 L1648.8,982.5 L1651.7,980.7 L1654.7,979.0 L1657.6,977.2 L1660.5,975.5 L1663.4,973.7 L1666.3,972.0 L1669.2,970.2 M1690.9,957.4 L1693.8,955.6 L1696.8,953.9 L1699.7,952.2 L1702.7,950.5 L1705.6,948.8 L1708.5,947.1 L1711.5,945.4 L1714.4,943.7 M1736.4,931.3 L1739.3,929.6 L1742.3,928.0 L1745.3,926.3 L1748.2,924.7 L1751.2,923.0 L1754.2,921.4 L1757.2,919.8 L1760.2,918.1 M1782.4,906.2 L1785.4,904.6 L1788.4,903.0 L1791.4,901.4 L1794.4,899.8 L1797.4,898.2 L1800.4,896.7 L1803.4,895.1 L1806.4,893.5 M1828.9,882.0 L1831.9,880.5 L1834.9,878.9 L1837.9,877.4 L1841.0,875.9 L1844.0,874.3 L1847.1,872.8 L1850.1,871.3 L1853.1,869.8 M1875.7,858.5 L1878.7,856.9 L1881.7,855.4 L1884.8,853.9 L1887.8,852.4 L1890.9,850.9 L1893.9,849.3 L1896.9,847.8 L1900.0,846.3 M1922.5,835.0 L1925.5,833.5 L1928.6,831.9 L1931.6,830.4 L1934.6,828.9 L1937.7,827.3 L1940.7,825.8 L1943.7,824.2 L1946.8,822.7" fill="none" stroke="#ff14a5" stroke-width="9.4" stroke-linejoin="round"/>
<text transform="translate(180.40,1565.00) scale(1,1.035)" font-size="54.0" fill="#262626" text-anchor="middle">0</text>
<text transform="translate(358.25,1565.00) scale(1,1.035)" font-size="54.0" fill="#262626" text-anchor="middle">20</text>
<text transform="translate(536.10,1565.00) scale(1,1.035)" font-size="54.0" fill="#262626" text-anchor="middle">40</text>
<text transform="translate(713.95,1565.00) scale(1,1.035)" font-size="54.0" fill="#262626" text-anchor="middle">60</text>
<text transform="translate(891.80,1565.00) scale(1,1.035)" font-size="54.0" fill="#262626" text-anchor="middle">80</text>
<text transform="translate(1069.65,1565.00) scale(1,1.035)" font-size="54.0" fill="#262626" text-anchor="middle">100</text>
<text transform="translate(1247.50,1565.00) scale(1,1.035)" font-size="54.0" fill="#262626" text-anchor="middle">120</text>
<text transform="translate(1425.35,1565.00) scale(1,1.035)" font-size="54.0" fill="#262626" text-anchor="middle">140</text>
<text transform="translate(1603.20,1565.00) scale(1,1.035)" font-size="54.0" fill="#262626" text-anchor="middle">160</text>
<text transform="translate(1781.05,1565.00) scale(1,1.035)" font-size="54.0" fill="#262626" text-anchor="middle">180</text>
<text transform="translate(1958.90,1565.00) scale(1,1.035)" font-size="54.0" fill="#262626" text-anchor="middle">200</text>
<text transform="translate(156.30,1509.30) scale(1,1.035)" font-size="54.0" fill="#262626" text-anchor="end">0</text>
<text transform="translate(156.30,1333.99) scale(1,1.035)" font-size="54.0" fill="#262626" text-anchor="end">5</text>
<text transform="translate(156.30,1158.68) scale(1,1.035)" font-size="54.0" fill="#262626" text-anchor="end">10</text>
<text transform="translate(156.30,983.37) scale(1,1.035)" font-size="54.0" fill="#262626" text-anchor="end">15</text>
<text transform="translate(156.30,808.06) scale(1,1.035)" font-size="54.0" fill="#262626" text-anchor="end">20</text>
<text transform="translate(156.30,632.75) scale(1,1.035)" font-size="54.0" fill="#262626" text-anchor="end">25</text>
<text transform="translate(156.30,457.44) scale(1,1.035)" font-size="54.0" fill="#262626" text-anchor="end">30</text>
<text transform="translate(156.30,282.13) scale(1,1.035)" font-size="54.0" fill="#262626" text-anchor="end">35</text>
<text transform="translate(156.30,106.82) scale(1,1.035)" font-size="54.0" fill="#262626" text-anchor="end">40</text>
<text transform="translate(1064.70,60.70) scale(1,1.035)" font-size="58.6" fill="#000" text-anchor="middle" font-weight="bold">Vehicle 1</text>
<text transform="translate(1069.70,1646.30)" font-size="59.3" fill="#262626" text-anchor="middle">time(s)</text>
<text transform="translate(63.70,877.75) rotate(-90) scale(1.21,1.066)" font-size="59.3" fill="#262626" text-anchor="start">Δ</text>
<text transform="translate(63.30,805.80) rotate(-90) scale(1.0,1.03)" font-size="59.3" fill="#262626" text-anchor="start"><tspan font-style="italic">r</tspan>(m)</text>
<path d="M222,128H700V618H222Z" fill="#262626" shape-rendering="crispEdges"/><path d="M225,131H697V615H225Z" fill="#fff" shape-rendering="crispEdges"/>
<path d="M239.1,169.6 H404.1" stroke="#000000" stroke-width="9.4" fill="none"/>
<text transform="translate(417.20,188.90) scale(1,1.03)" font-size="48.95" fill="#000" text-anchor="start">Propagation</text>
<path d="M239.1,237.3 H404.1" stroke="#4a89c0" stroke-width="9.4" fill="none" stroke-dasharray="27.2 25.5"/>
<text transform="translate(417.20,256.50) scale(1,1.03)" font-size="48.95" fill="#000" text-anchor="start">Case 1</text>
<path d="M239.1,305.0 H404.1" stroke="#5cb85c" stroke-width="9.4" fill="none" stroke-dasharray="27.2 25.5"/>
<text transform="translate(417.20,324.10) scale(1,1.03)" font-size="48.95" fill="#000" text-anchor="start">Case 2</text>
<path d="M239.1,372.7 H404.1" stroke="#ff8c1a" stroke-width="9.4" fill="none" stroke-dasharray="27.2 25.5"/>
<text transform="translate(417.20,391.70) scale(1,1.03)" font-size="48.95" fill="#000" text-anchor="start">Case 3</text>
<path d="M239.1,440.4 H404.1" stroke="#dccd6e" stroke-width="9.4" fill="none" stroke-dasharray="27.2 25.5"/>
<text transform="translate(417.20,459.30) scale(1,1.03)" font-size="48.95" fill="#000" text-anchor="start">Case 4</text>
<path d="M239.1,508.1 H404.1" stroke="#ad663c" stroke-width="9.4" fill="none" stroke-dasharray="27.2 25.5"/>
<text transform="translate(417.20,526.90) scale(1,1.03)" font-size="48.95" fill="#000" text-anchor="start">Case 5</text>
<path d="M239.1,575.8 H404.1" stroke="#ff14a5" stroke-width="9.4" fill="none" stroke-dasharray="27.2 25.5"/>
<text transform="translate(417.20,594.50) scale(1,1.03)" font-size="48.95" fill="#000" text-anchor="start">Case 5 [14]</text>
</svg></body></html>
